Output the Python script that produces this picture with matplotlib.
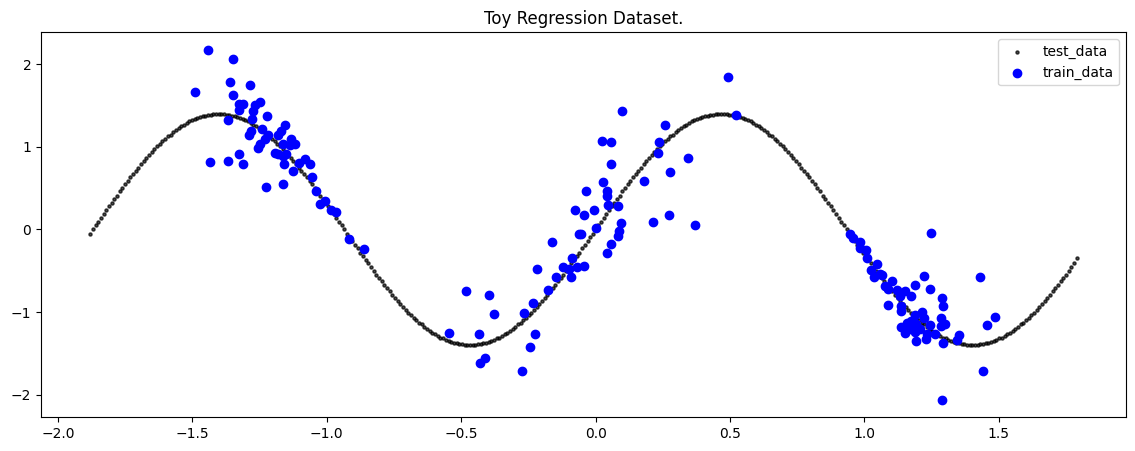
import numpy as np
import matplotlib
matplotlib.use("Agg")
import matplotlib.pyplot as plt

test_y = [
    -0.05,
    0.00, 0.05, 0.09, 0.14, 0.19, 0.23, 0.28, 0.32, 0.37, 0.41, 0.46, 0.50, 0.55, 0.59, 0.63, 0.67,
    0.71, 0.75, 0.79, 0.83, 0.87, 0.90, 0.94, 0.97, 1.01, 1.04, 1.07, 1.10, 1.13, 1.15, 1.18, 1.20,
    1.23, 1.25, 1.27, 1.29, 1.31, 1.32, 1.34, 1.35, 1.36, 1.37, 1.38, 1.39, 1.39, 1.40, 1.40, 1.40,
    1.40, 1.40, 1.39, 1.39, 1.38, 1.37, 1.36, 1.35, 1.34, 1.32, 1.31, 1.29, 1.27, 1.25, 1.23, 1.20,
    1.18, 1.15, 1.13, 1.10, 1.07, 1.04, 1.01, 0.97, 0.94, 0.90, 0.87, 0.83, 0.79, 0.75, 0.71, 0.67,
    0.63, 0.59, 0.55, 0.50, 0.46, 0.41, 0.37, 0.32, 0.28, 0.23, 0.19, 0.14, 0.09, 0.05, 0.00,
    -0.05, -0.09, -0.14, -0.19, -0.23, -0.28, -0.32, -0.37, -0.41, -0.46, -0.50, -0.55, -0.59, -0.63, -0.67,
    -0.71, -0.75, -0.79, -0.83, -0.87, -0.90, -0.94, -0.97, -1.01, -1.04, -1.07, -1.10, -1.13, -1.15, -1.18, -1.20,
    -1.23, -1.25, -1.27, -1.29, -1.31, -1.32, -1.34, -1.35, -1.36, -1.37, -1.38, -1.39, -1.39, -1.40, -1.40, -1.40,
    -1.40, -1.40, -1.39, -1.39, -1.38, -1.37, -1.36, -1.35, -1.34, -1.32, -1.31, -1.29, -1.27, -1.25, -1.23, -1.20,
    -1.18, -1.15, -1.13, -1.10, -1.07, -1.04, -1.01, -0.97, -0.94, -0.90, -0.87, -0.83, -0.79, -0.75, -0.71, -0.67,
    -0.63, -0.59, -0.55, -0.50, -0.46, -0.41, -0.37, -0.32, -0.28, -0.23, -0.19, -0.14, -0.09, -0.05, 0.00,
    0.05, 0.09, 0.14, 0.19, 0.23, 0.28, 0.32, 0.37, 0.41, 0.46, 0.50, 0.55, 0.59, 0.63, 0.67,
    0.71, 0.75, 0.79, 0.83, 0.87, 0.90, 0.94, 0.97, 1.01, 1.04, 1.07, 1.10, 1.13, 1.15, 1.18, 1.20,
    1.23, 1.25, 1.27, 1.29, 1.31, 1.32, 1.34, 1.35, 1.36, 1.37, 1.38, 1.39, 1.39, 1.40, 1.40, 1.40,
    1.40, 1.40, 1.39, 1.39, 1.38, 1.37, 1.36, 1.35, 1.34, 1.32, 1.31, 1.29, 1.27, 1.25, 1.23, 1.20,
    1.18, 1.15, 1.13, 1.10, 1.07, 1.04, 1.01, 0.97, 0.94, 0.90, 0.87, 0.83, 0.79, 0.75, 0.71, 0.67,
    0.63, 0.59, 0.55, 0.50, 0.46, 0.41, 0.37, 0.32, 0.28, 0.23, 0.19, 0.14, 0.09, 0.05, 0.00,
    -0.05, -0.09, -0.14, -0.19, -0.23, -0.28, -0.32, -0.37, -0.41, -0.46, -0.50, -0.55, -0.59, -0.63, -0.67,
    -0.71, -0.75, -0.79, -0.83, -0.87, -0.90, -0.94, -0.97, -1.01, -1.04, -1.07, -1.10, -1.13, -1.15, -1.18, -1.20,
    -1.23, -1.25, -1.27, -1.29, -1.31, -1.32, -1.34, -1.35, -1.36, -1.37, -1.38, -1.39, -1.39, -1.40, -1.40, -1.40,
    -1.40, -1.40, -1.39, -1.39, -1.38, -1.37, -1.36, -1.35, -1.34, -1.32, -1.31, -1.29, -1.27, -1.25, -1.23, -1.20,
    -1.18, -1.15, -1.13, -1.10, -1.07, -1.04, -1.01, -0.97, -0.94, -0.90, -0.87, -0.83, -0.79, -0.75, -0.71, -0.67,
    -0.63, -0.59, -0.55, -0.50, -0.46, -0.41, -0.35,
]
test_x = np.linspace(-1.88, 1.79, len(test_y))

# training points
train_x = [
    -1.491, -1.443, -1.433, -1.366, -1.366, -1.362, -1.350, -1.350, -1.328, -1.325, -1.312, -1.325, -1.312,
    -1.290, -1.286, -1.284, -1.279, -1.275, -1.269, -1.256, -1.250, -1.250, -1.241, -1.231, -1.228, -1.223,
    -1.219, -1.194, -1.181, -1.181, -1.169, -1.163, -1.163, -1.163, -1.160, -1.157, -1.151, -1.138, -1.132,
    -1.126, -1.119, -1.103, -1.082, -1.063, -1.055, -1.039, -1.026, -1.007, -0.985, -0.966, -0.917, -0.861,
    -0.545, -0.481, -0.432, -0.429, -0.410, -0.398, -0.377, -0.272, -0.265, -0.243, -0.234, -0.226, -0.218,
    -0.178, -0.164, -0.147, -0.120, -0.099, -0.093, -0.087, -0.075, -0.071, -0.062, -0.056, -0.044, -0.044,
    -0.034, -0.006, 0.000, 0.025, 0.026, 0.041, 0.041, 0.044, 0.046, 0.056, 0.056, 0.056, 0.083, 0.083,
    0.087, 0.093, 0.098, 0.180, 0.214, 0.233, 0.236, 0.259, 0.274, 0.276, 0.343, 0.369, 0.491, 0.522,
    0.945, 0.958, 0.983, 0.983, 1.007, 1.010, 1.024, 1.035, 1.047, 1.057, 1.067, 1.076, 1.088, 1.088, 1.101,
    1.123, 1.132, 1.136, 1.138, 1.136, 1.151, 1.151, 1.157, 1.157, 1.166, 1.173, 1.175, 1.188, 1.188, 1.188,
    1.194, 1.194, 1.206, 1.213, 1.222, 1.223, 1.231, 1.234, 1.244, 1.244, 1.248, 1.262, 1.285, 1.285, 1.290,
    1.290, 1.293, 1.293, 1.300, 1.343, 1.352, 1.430, 1.442, 1.455, 1.487,
]
train_y = [
    1.67, 2.18, 0.82, 1.32, 0.83, 1.79, 2.06, 1.63, 1.45, 1.52, 1.52, 0.92, 0.79,
    1.14, 1.75, 1.19, 1.34, 1.44, 1.51, 0.99, 1.54, 1.03, 1.22, 1.09, 0.52, 1.38,
    1.14, 0.93, 1.14, 0.91, 1.19, 1.03, 0.89, 0.55, 0.79, 1.26, 0.91, 1.02, 1.09,
    0.71, 1.04, 0.81, 0.85, 0.79, 0.64, 0.46, 0.31, 0.34, 0.24, 0.21, -0.11, -0.24,
    -1.26, -0.75, -1.27, -1.62, -1.56, -0.80, -1.03, -1.72, -1.01, -1.43, -0.89, -1.27, -0.48,
    -0.73, -0.15, -0.57, -0.45, -0.48, -0.58, -0.35, 0.24, -0.45, -0.05, -0.05, -0.44, 0.18,
    0.46, 0.24, 0.02, 1.07, 0.58, 0.46, -0.29, 0.40, 0.30, 1.06, 0.79, -0.18, 0.29, -0.08,
    -0.02, 0.08, 1.44, 0.59, 0.09, 0.93, 1.06, 1.27, 0.17, 0.69, 0.86, 0.05, 1.85, 1.39,
    -0.06, -0.10, -0.15, -0.23, -0.25, -0.35, -0.49, -0.58, -0.42, -0.54, -0.55, -0.68, -0.72, -0.91, -0.62,
    -0.73, -0.81, -0.93, -0.99, -1.18, -0.75, -1.26, -1.13, -1.17, -1.20, -0.81, -1.11, -0.67, -1.04, -1.24,
    -1.35, -1.15, -1.21, -1.00, -0.56, -1.07, -1.33, -1.27, -0.72, -1.16, -0.04, -1.27, -1.07, -1.17, -0.83,
    -2.06, -0.93, -1.37, -1.15, -1.34, -1.28, -0.58, -1.71, -1.16, -1.06,
]

fig = plt.figure(figsize=(11.35, 4.51), dpi=100)
ax = fig.add_axes([41 / 1135, 34 / 451, 1085 / 1135, 385 / 451])

ax.scatter(test_x, test_y, s=5, c="k", alpha=0.7, label="test_data")
ax.scatter(train_x, train_y, c="blue", label="train_data")
ax.set_title("Toy Regression Dataset.")
ax.legend(loc="upper right")

fig.savefig("out.png", dpi=100)
